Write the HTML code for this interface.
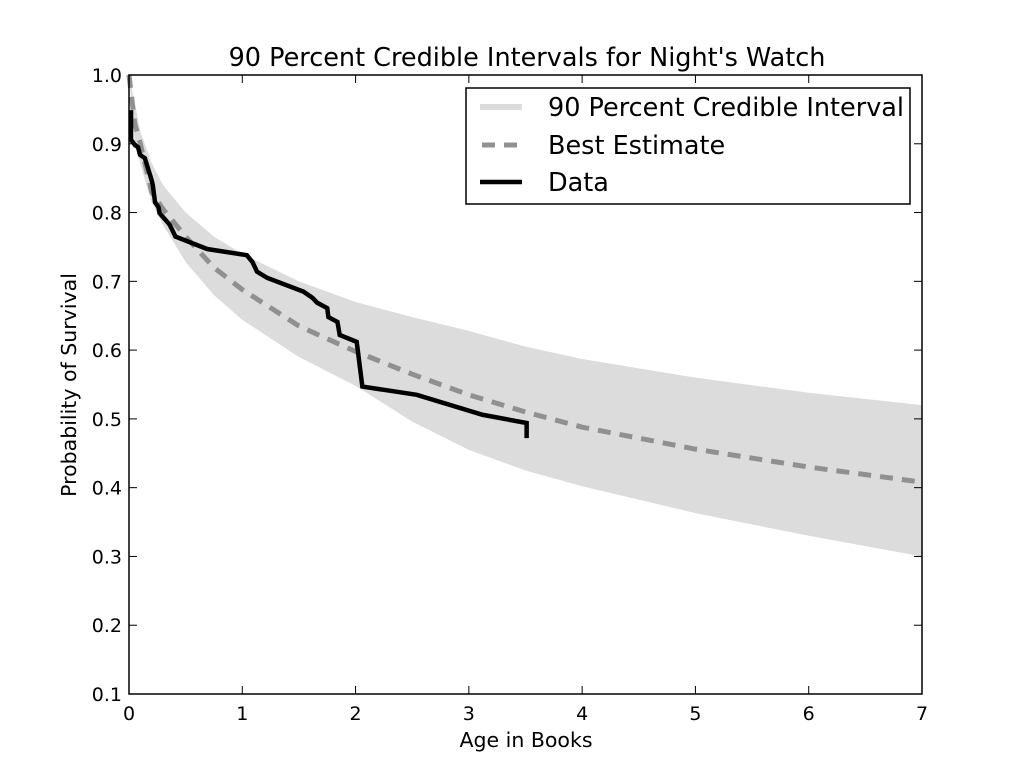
<!DOCTYPE html>
<html><head><meta charset="utf-8"><style>
html,body{margin:0;padding:0;background:#fff;}
svg{display:block;font-family:"DejaVu Sans","Liberation Sans",sans-serif;}
</style></head><body>
<svg id="chart" width="1024" height="772">
<g id="plot"></g>
</svg>
<script>
const gridX=[0,0.05,0.1,0.2,0.3,0.5,0.75,1,1.5,2,2.5,3,3.5,4,5,6,7];
const estimate=[1.0,0.93,0.90,0.83,0.805,0.765,0.72,0.688,0.635,0.598,0.565,0.535,0.51,0.488,0.456,0.43,0.408];
const upper=[1.0,0.96,0.918,0.872,0.84,0.80,0.765,0.74,0.70,0.67,0.648,0.628,0.605,0.587,0.56,0.538,0.52];
const lower=[1.0,0.905,0.87,0.815,0.782,0.728,0.68,0.644,0.59,0.548,0.496,0.455,0.425,0.402,0.363,0.33,0.30];
const dataX=[0.018,0.018,0.053,0.08,0.097,0.14,0.20,0.21,0.23,0.26,0.27,0.34,0.36,0.41,0.69,1.04,1.09,1.13,1.22,1.54,1.62,1.66,1.75,1.76,1.84,1.86,2.01,2.06,2.54,3.12,3.51,3.51];
const dataY=[0.949,0.906,0.898,0.895,0.884,0.879,0.847,0.84,0.815,0.808,0.799,0.786,0.782,0.765,0.747,0.738,0.728,0.714,0.705,0.685,0.676,0.669,0.661,0.648,0.641,0.622,0.612,0.547,0.535,0.506,0.494,0.472];
const xTicks=[0,1,2,3,4,5,6,7];
const yTicks=[0.1,0.2,0.3,0.4,0.5,0.6,0.7,0.8,0.9,1.0];
const yTickLabels=["0.1","0.2","0.3","0.4","0.5","0.6","0.7","0.8","0.9","1.0"];

const L=129,R=922,T=75,B=694;
const sx=v=>L+(v-0)/(7-0)*(R-L);
const sy=v=>B-(v-0.1)/(1.0-0.1)*(B-T);
const NS="http://www.w3.org/2000/svg";
const g=document.getElementById('plot');
function mk(tag,attrs,parent){const e=document.createElementNS(NS,tag);for(const k in attrs)e.setAttribute(k,attrs[k]);(parent||g).appendChild(e);return e;}

let d="M"+gridX.map((x,i)=>sx(x)+","+sy(upper[i])).join("L");
for(let i=gridX.length-1;i>=0;i--)d+="L"+sx(gridX[i])+","+sy(lower[i]);
const band=mk('path',{d:d+"Z",fill:"#dcdcdc",stroke:"none"});



const est=mk('polyline',{points:gridX.map((x,i)=>sx(x)+","+sy(estimate[i])).join(" "),fill:"none",stroke:"#909090","stroke-width":5,"stroke-dasharray":"13,9"});



const dl=mk('polyline',{points:dataX.map((x,i)=>sx(x)+","+sy(dataY[i])).join(" "),fill:"none",stroke:"#000","stroke-width":4.5,"stroke-linejoin":"miter"});



const fr=mk('rect',{x:L,y:T,width:R-L,height:B-T,fill:"none",stroke:"#000","stroke-width":1.5});



xTicks.forEach(t=>{
  const x=sx(t);
  mk('line',{x1:x,y1:B,x2:x,y2:B-8,stroke:"#000","stroke-width":1});
  mk('line',{x1:x,y1:T,x2:x,y2:T+8,stroke:"#000","stroke-width":1});
  const tx=mk('text',{x:x,y:B+26,"text-anchor":"middle","font-size":19});
  tx.textContent=String(t);
  
  
});
yTicks.forEach((t,i)=>{
  const y=sy(t);
  mk('line',{x1:L,y1:y,x2:L+8,y2:y,stroke:"#000","stroke-width":1});
  mk('line',{x1:R,y1:y,x2:R-8,y2:y,stroke:"#000","stroke-width":1});
  const tx=mk('text',{x:L-7,y:y+7,"text-anchor":"end","font-size":19});
  tx.textContent=yTickLabels[i];
  
  
});
</script>
<svg width="1024" height="772" style="position:absolute;left:0;top:0;">
<text x="527" y="66" text-anchor="middle" font-size="25.5">90 Percent Credible Intervals for Night's Watch</text>
<text x="526" y="747" text-anchor="middle" font-size="20.5">Age in Books</text>
<text transform="translate(76,385) rotate(-90)" text-anchor="middle" font-size="20.5">Probability of Survival</text>
<g>
<rect x="466" y="88" width="444" height="116" fill="#fff" stroke="#000" stroke-width="1.5"/>
<line x1="480" y1="107" x2="522" y2="107" stroke="#dcdcdc" stroke-width="6"/>
<text x="548" y="116" font-size="25.5">90 Percent Credible Interval</text>
<line x1="482" y1="145" x2="522" y2="145" stroke="#909090" stroke-width="5" stroke-dasharray="13,9"/>
<text x="548" y="154" font-size="25.5">Best Estimate</text>
<line x1="480" y1="182" x2="522" y2="182" stroke="#000" stroke-width="4.5"/>
<text x="548" y="191" font-size="25.5">Data</text>
</g>
</svg>
</body></html>
